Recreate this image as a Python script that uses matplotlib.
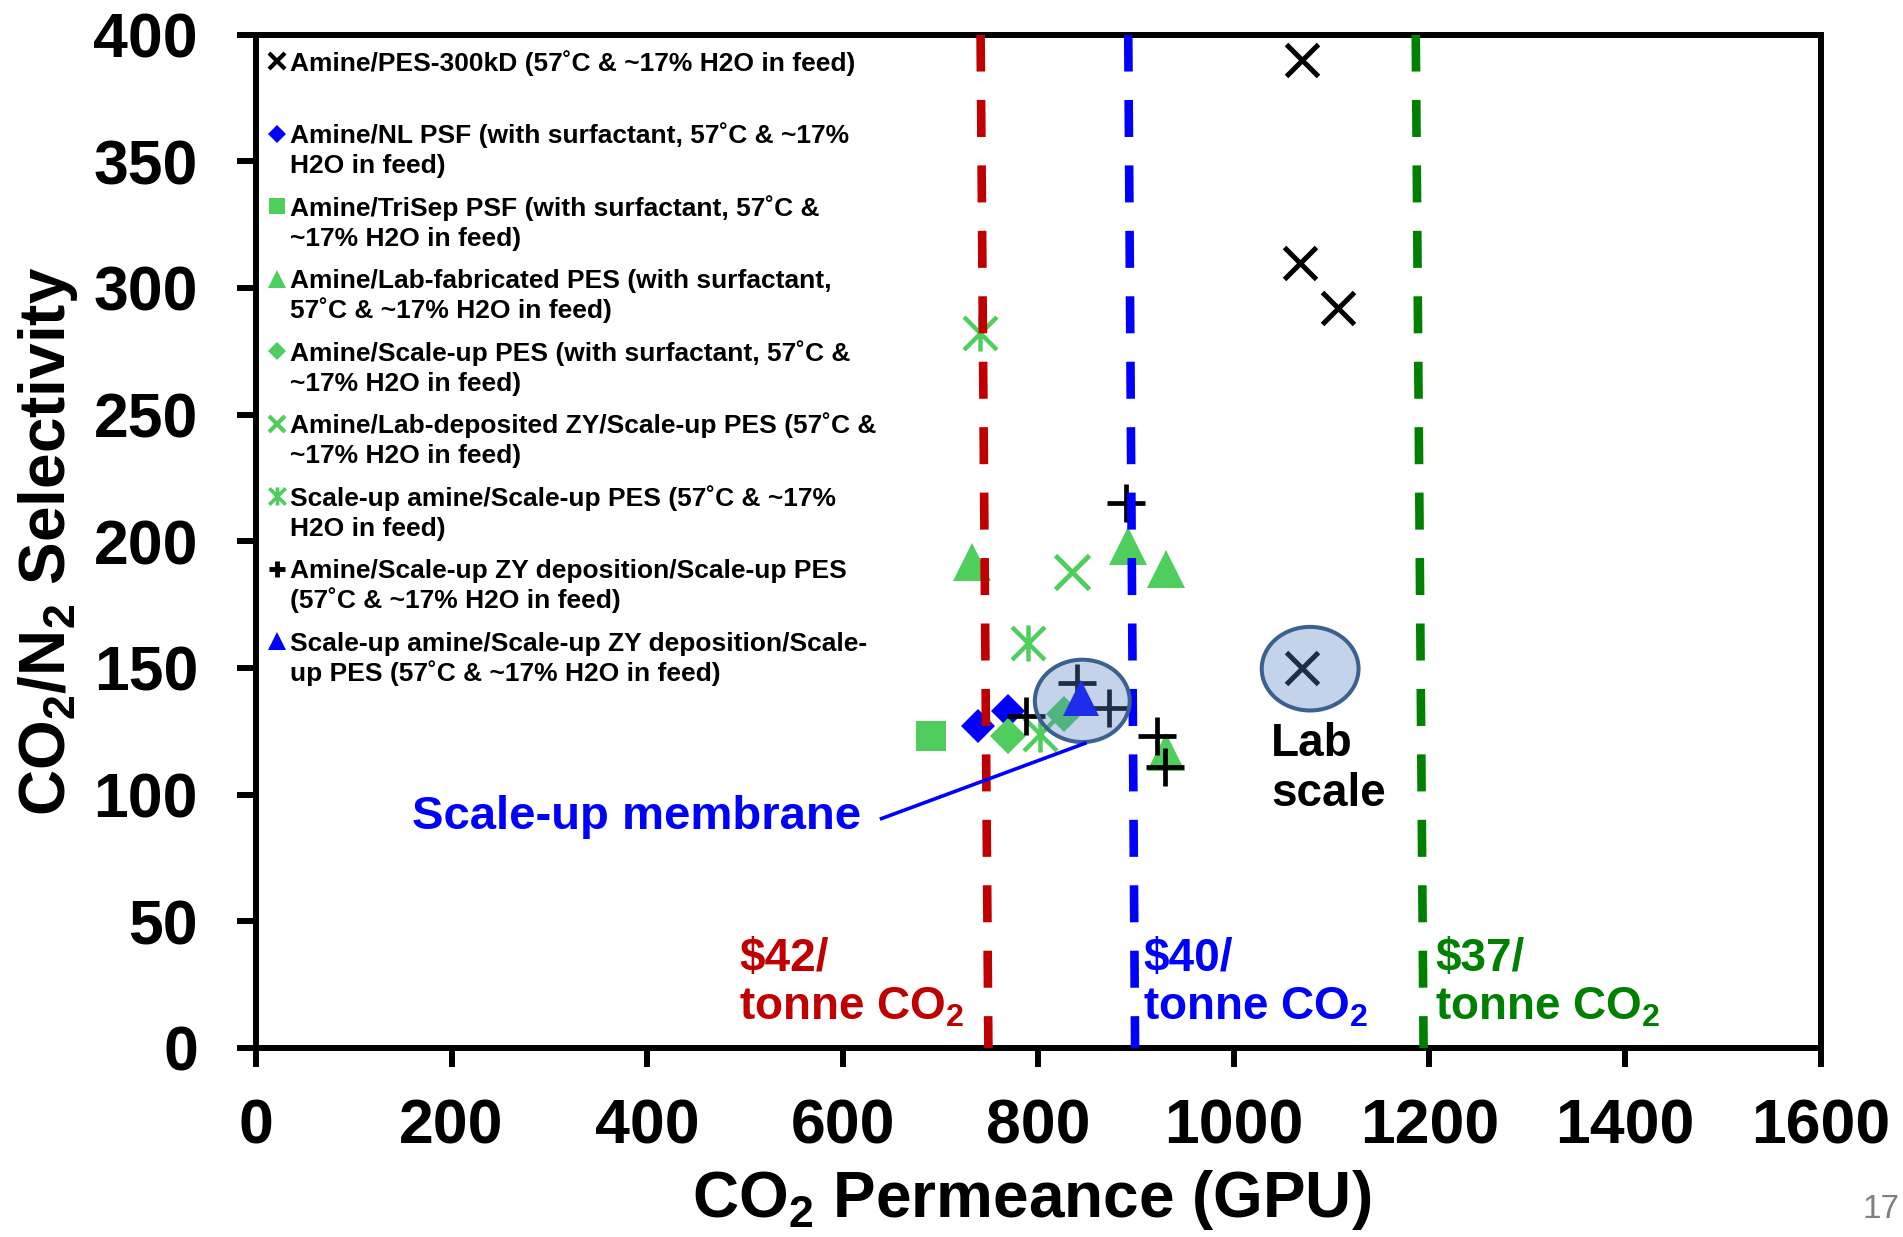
import matplotlib
matplotlib.use('Agg')
import matplotlib.pyplot as plt
from matplotlib.patches import Ellipse
from matplotlib.path import Path

plt.rcParams['font.family'] = ['Liberation Sans', 'DejaVu Sans']
plt.rcParams['font.weight'] = 'bold'
plt.rcParams['mathtext.fontset'] = 'custom'
plt.rcParams['mathtext.rm'] = 'Liberation Sans:bold'
plt.rcParams['mathtext.it'] = 'Liberation Sans:bold'
plt.rcParams['mathtext.bf'] = 'Liberation Sans:bold'
plt.rcParams['mathtext.default'] = 'bf'

# ---------------- data ----------------
series_names = [
    "Amine/PES-300kD (57˚C & ~17% H2O in feed)",
    "Amine/NL PSF (with surfactant, 57˚C & ~17%\nH2O in feed)",
    "Amine/TriSep PSF (with surfactant, 57˚C &\n~17% H2O in feed)",
    "Amine/Lab-fabricated PES (with surfactant,\n57˚C & ~17% H2O in feed)",
    "Amine/Scale-up PES (with surfactant, 57˚C &\n~17% H2O in feed)",
    "Amine/Lab-deposited ZY/Scale-up PES (57˚C &\n~17% H2O in feed)",
    "Scale-up amine/Scale-up PES (57˚C & ~17%\nH2O in feed)",
    "Amine/Scale-up ZY deposition/Scale-up PES\n(57˚C & ~17% H2O in feed)",
    "Scale-up amine/Scale-up ZY deposition/Scale-\nup PES (57˚C & ~17% H2O in feed)",
]

pes300_x = [1070, 1068, 1107, 1070]
pes300_y = [390, 310, 292, 150]
nlpsf_x = [738, 769]
nlpsf_y = [127, 133]
trisep_x = [690]
trisep_y = [123]
labpes_x = [732, 892, 931, 931]
labpes_y = [192, 198, 189, 117]
scalepes_x = [769, 826]
scalepes_y = [123, 132]
labzy_x = [834]
labzy_y = [188]
suamine_x = [740, 790, 802]
suamine_y = [282, 160, 124]
suzy_x = [890, 840, 872, 787, 921, 930]
suzy_y = [215, 144, 134, 131, 123, 111]
suamzy_x = [844]
suamzy_y = [138]

cost_labels = ["\\$42/", "\\$40/", "\\$37/"]
cost_x_top = [741, 892, 1186]
cost_x_bottom = [749, 899, 1194]
cost_label_x = [494, 907, 1206]

x_ticks = [0, 200, 400, 600, 800, 1000, 1200, 1400, 1600]
y_ticks = [0, 50, 100, 150, 200, 250, 300, 350, 400]

# ---------------- styles ----------------
GREEN = '#4fce5d'
BLUE = '#0000ff'
star = Path([(-0.5, -0.5), (0.5, 0.5), (-0.5, 0.5), (0.5, -0.5), (0, -0.55), (0, 0.55)],
            [Path.MOVETO, Path.LINETO] * 3)

series = [
    (pes300_x, pes300_y, dict(marker='x', color='black', ms=23, mew=3.6), dict(ms=11, mew=3.0)),
    (nlpsf_x, nlpsf_y, dict(marker='D', color=BLUE, ms=17.8, mew=0), dict(ms=9, mew=0)),
    (trisep_x, trisep_y, dict(marker='s', color=GREEN, ms=22.3, mew=0), dict(ms=12, mew=0)),
    (labpes_x, labpes_y, dict(marker='^', color=GREEN, ms=28, mew=0), dict(ms=13, mew=0)),
    (scalepes_x, scalepes_y, dict(marker='D', color=GREEN, ms=18.8, mew=0), dict(ms=9, mew=0)),
    (labzy_x, labzy_y, dict(marker='x', color=GREEN, ms=25, mew=3.5), dict(ms=11, mew=3.0)),
    (suamine_x, suamine_y, dict(marker=star, color=GREEN, ms=26, mew=3.2), dict(ms=13, mew=2.6)),
    (suzy_x, suzy_y, dict(marker='+', color='black', ms=27, mew=3.4), dict(ms=12, mew=3.5)),
    (suamzy_x, suamzy_y, dict(marker='^', color=BLUE, ms=26.5, mew=0), dict(ms=13, mew=0)),
]

cost_colors = ['#c00000', '#0000ff', '#008000']

# ---------------- figure ----------------
fig = plt.figure(figsize=(19.03, 12.37), dpi=100)
ax = fig.add_axes([0.1345, 0.1528, 0.8222, 0.8193])
ax.set_xlim(0, 1600)
ax.set_ylim(0, 400)
ax.set_xticks(x_ticks)
ax.set_yticks(y_ticks)
ax.tick_params(direction='out', length=13.7, width=4.3, labelsize=45)
ax.tick_params(axis='y', pad=28)
ax.tick_params(axis='x', pad=22)
for lab in ax.get_xticklabels() + ax.get_yticklabels():
    lab.set_fontweight('bold')
for sp in ax.spines.values():
    sp.set_linewidth(4.3)

for xs, ys, st, _ in series:
    ax.plot(xs, ys, ls='none', zorder=3, **st)

# cost lines
for xt, xb, c in zip(cost_x_top, cost_x_bottom, cost_colors):
    ln, = ax.plot([xt, xb], [400, 0], color=c, lw=6.2, zorder=4,
                  dash_capstyle='butt', solid_capstyle='butt')
    ln.set_dashes([4.3, 3.3])

for lx, lab, c in zip(cost_label_x, cost_labels, cost_colors):
    ax.text(lx, 30.4, lab, color=c, fontsize=33, fontweight='bold', ha='left', va='baseline', zorder=6)
    ax.text(lx, 11.2, 'tonne CO$_2$', color=c, fontsize=33, fontweight='bold', ha='left', va='baseline', zorder=6)

# ellipses
for cx, cy, w, h in [(845, 137, 97, 32.5), (1078, 149.7, 99, 33)]:
    e = Ellipse((cx, cy), w, h, facecolor=(0.34, 0.51, 0.77, 0.35), edgecolor='#3c6090',
                lw=2.9, zorder=5)
    ax.add_patch(e)

# annotations
ax.plot([638, 849.5], [90.3, 120.5], color=BLUE, lw=2.6, zorder=5, solid_capstyle='butt')
ax.text(160, 91, 'Scale-up membrane', color=BLUE, fontsize=34, fontweight='bold',
        ha='left', va='center', zorder=6)
ax.text(1038, 115.1, 'Lab', color='black', fontsize=33, fontweight='bold', ha='left', va='baseline', zorder=6)
ax.text(1038, 95.4, 'scale', color='black', fontsize=33, fontweight='bold', ha='left', va='baseline', zorder=6)

# legend (manual)
row0 = 385.6
step = 28.61
line2 = 11.84
for i, (name, (_, _, st, lst)) in enumerate(zip(series_names, series)):
    yb = row0 - i * step
    ax.plot([21.7], [yb + 3.8], ls='none', marker=st['marker'], color=st['color'],
            ms=lst['ms'], mew=lst['mew'], zorder=6, clip_on=False)
    for j, line in enumerate(name.split('\n')):
        ax.text(34.8, yb - j * line2, line, fontsize=19, fontweight='bold',
                ha='left', va='baseline', zorder=6)

# axis labels
ax.set_xlabel('CO$_2$ Permeance (GPU)', fontsize=46, fontweight='bold')
ax.xaxis.set_label_coords(0.496, -0.1668)
ax.xaxis.label.set_va('baseline')
ax.set_ylabel('CO$_2$/N$_2$ Selectivity', fontsize=46, fontweight='bold')
ax.yaxis.set_label_coords(-0.133, 0.5)
ax.yaxis.label.set_va('center')

fig.text(0.998, 0.0154, '17', fontsize=24, fontweight='normal', color='#808080',
         ha='right', va='baseline')

fig.savefig('out.png', dpi=100)
